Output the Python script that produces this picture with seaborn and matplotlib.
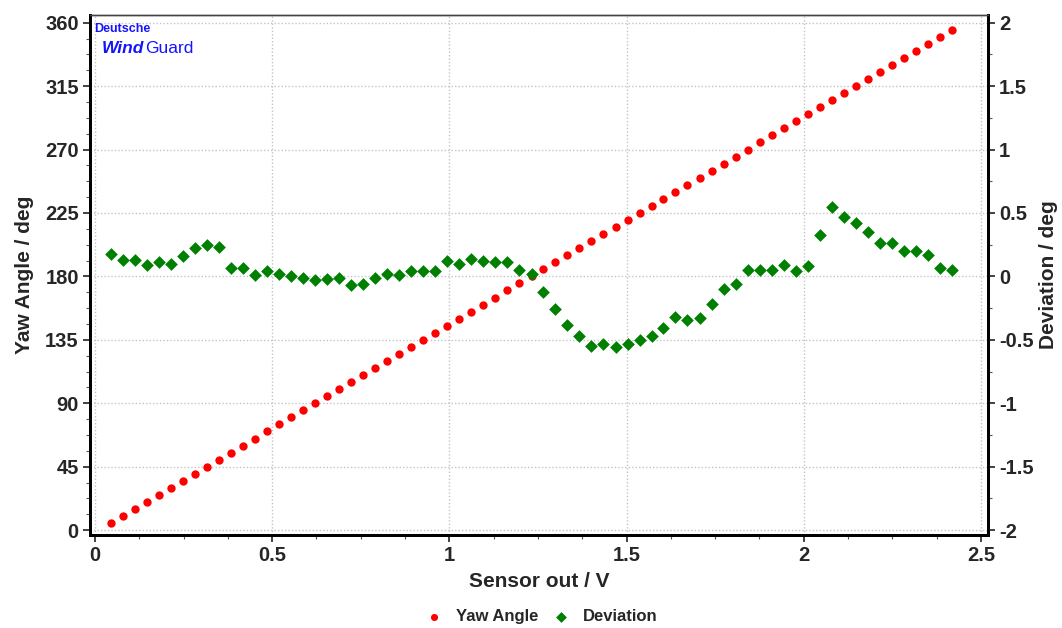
import matplotlib
matplotlib.use("Agg")
import matplotlib.pyplot as plt
import seaborn as sns
import pandas as pd
from matplotlib.ticker import MultipleLocator

sensor_out = [0.045, 0.079, 0.113, 0.147, 0.181, 0.215, 0.248, 0.282, 0.316, 0.350,
              0.384, 0.418, 0.452, 0.486, 0.520, 0.554, 0.587, 0.621, 0.655, 0.689,
              0.723, 0.757, 0.791, 0.825, 0.859, 0.893, 0.926, 0.960, 0.994, 1.028,
              1.062, 1.096, 1.130, 1.164, 1.198, 1.232, 1.265, 1.299, 1.333, 1.367,
              1.401, 1.435, 1.469, 1.503, 1.537, 1.571, 1.604, 1.638, 1.672, 1.706,
              1.740, 1.774, 1.808, 1.842, 1.876, 1.910, 1.943, 1.977, 2.011, 2.045,
              2.079, 2.113, 2.147, 2.181, 2.215, 2.249, 2.282, 2.316, 2.350, 2.384,
              2.418]
yaw_angle = [5, 10, 15, 20, 25, 30, 35, 40, 45, 50, 55, 60, 65, 70, 75, 80, 85, 90,
             95, 100, 105, 110, 115, 120, 125, 130, 135, 140, 145, 150, 155, 160, 165,
             170, 175, 180, 185, 190, 195, 200, 205, 210, 215, 220, 225, 230, 235, 240,
             245, 250, 255, 260, 265, 270, 275, 280, 285, 290, 295, 300, 305, 310, 315,
             320, 325, 330, 335, 340, 345, 350, 355]
deviation = [0.18, 0.13, 0.13, 0.09, 0.11, 0.10, 0.16, 0.22, 0.25, 0.23,
             0.07, 0.07, 0.01, 0.04, 0.02, 0.00, -0.01, -0.03, -0.02, -0.01,
             -0.07, -0.06, -0.01, 0.02, 0.01, 0.04, 0.04, 0.04, 0.12, 0.10,
             0.14, 0.12, 0.11, 0.11, 0.05, 0.02, -0.12, -0.26, -0.38, -0.47,
             -0.55, -0.53, -0.56, -0.53, -0.50, -0.47, -0.41, -0.32, -0.34, -0.33,
             -0.22, -0.10, -0.06, 0.05, 0.05, 0.05, 0.09, 0.04, 0.08, 0.33,
             0.55, 0.47, 0.42, 0.35, 0.26, 0.26, 0.20, 0.20, 0.17, 0.07,
             0.05]
left_ticks = [0, 45, 90, 135, 180, 225, 270, 315, 360]
right_ticks = [-2, -1.5, -1, -0.5, 0, 0.5, 1, 1.5, 2]
right_tick_labels = ["-2", "-1.5", "-1", "-0.5", "0", "0.5", "1", "1.5", "2"]
x_ticks = [0, 0.5, 1, 1.5, 2, 2.5]
x_tick_labels = ["0", "0.5", "1", "1.5", "2", "2.5"]

df = pd.DataFrame({"sensor": sensor_out, "yaw": yaw_angle, "dev": deviation})

sns.set_style("white")
plt.rcParams["font.family"] = ["Liberation Sans", "DejaVu Sans"]
plt.rcParams["font.weight"] = "bold"

fig = plt.figure(figsize=(10.62, 6.28), dpi=100)
ax = fig.add_axes([0.0847, 0.148, 0.8456, 0.828])
ax2 = ax.twinx()

RED = "#ff0000"
GREEN = "#008000"

sns.scatterplot(data=df, x="sensor", y="yaw", ax=ax, color=RED, s=36,
                marker="o", linewidth=0, zorder=3, label="Yaw Angle", legend=False)
sns.scatterplot(data=df, x="sensor", y="dev", ax=ax2, color=GREEN, s=42,
                marker="D", linewidth=0, zorder=3, label="Deviation", legend=False)

ylo, yhi = -3.5, 365.4
ax.set_xlim(-0.0141, 2.52)
ax.set_ylim(ylo, yhi)
ax2.set_ylim(ylo / 90 - 2, yhi / 90 - 2)

ax.set_xticks(x_ticks)
ax.set_xticklabels(x_tick_labels)
ax.set_yticks(left_ticks)
ax.set_yticklabels([str(t) for t in left_ticks])
ax2.set_yticks(right_ticks)
ax2.set_yticklabels(right_tick_labels)
ax.xaxis.set_minor_locator(MultipleLocator(0.125))
ax.yaxis.set_minor_locator(MultipleLocator(11.25))
ax2.yaxis.set_minor_locator(MultipleLocator(0.25))

for a in (ax, ax2):
    a.tick_params(axis="both", which="major", direction="out", length=5, width=1.2,
                  labelsize=14.5, color="#222222", pad=3)
    a.tick_params(axis="both", which="minor", direction="out", length=3, width=0.8,
                  color="#555555")
ax.tick_params(axis="x", which="both", bottom=True)
ax.tick_params(axis="y", which="both", left=True)
ax2.tick_params(axis="y", which="both", right=True)
for lbl in ax.get_xticklabels() + ax.get_yticklabels() + ax2.get_yticklabels():
    lbl.set_fontweight("bold")

ax.grid(True, which="major", color="#c4c4c4", linestyle=(0, (1, 1.5)), linewidth=1.0)
ax.set_axisbelow(True)

for a in (ax, ax2):
    a.spines["left"].set_linewidth(2.0)
    a.spines["bottom"].set_linewidth(2.0)
    a.spines["right"].set_linewidth(2.0)
    a.spines["top"].set_linewidth(1.0)
    a.spines["top"].set_color("#444444")
    for s in ("left", "bottom", "right"):
        a.spines[s].set_color("black")

ax.set_xlabel("Sensor out / V", fontsize=15, fontweight="bold", labelpad=5)
ax.set_ylabel("Yaw Angle / deg", fontsize=15, fontweight="bold", labelpad=8)
ax2.set_ylabel("Deviation / deg", fontsize=15, fontweight="bold", labelpad=4)

# logo
LOGO = "#1414ff"
ax.text(0.005, 0.985, "Deutsche", transform=ax.transAxes, color=LOGO,
        fontsize=9, fontweight="bold", va="top", ha="left")
t_wind = ax.text(0.0135, 0.950, "Wind", transform=ax.transAxes, color=LOGO,
                 fontsize=12.5, fontweight="bold", style="italic", va="top", ha="left")
fig.canvas.draw()
bb = t_wind.get_window_extent(renderer=fig.canvas.get_renderer())
x_after = ax.transAxes.inverted().transform((bb.x1, bb.y1))[0]
ax.text(x_after + 0.001, 0.950, "Guard", transform=ax.transAxes, color=LOGO,
        fontsize=12.5, fontweight="normal", va="top", ha="left")

h1, l1 = ax.get_legend_handles_labels()
h2, l2 = ax2.get_legend_handles_labels()
leg = fig.legend(h1 + h2, l1 + l2, loc="center", bbox_to_anchor=(0.506, 0.018),
                 ncol=2, frameon=False, fontsize=12, handletextpad=0.3,
                 columnspacing=0.4, markerscale=0.85)
for t in leg.get_texts():
    t.set_fontweight("bold")

fig.savefig("out.png", dpi=100)
